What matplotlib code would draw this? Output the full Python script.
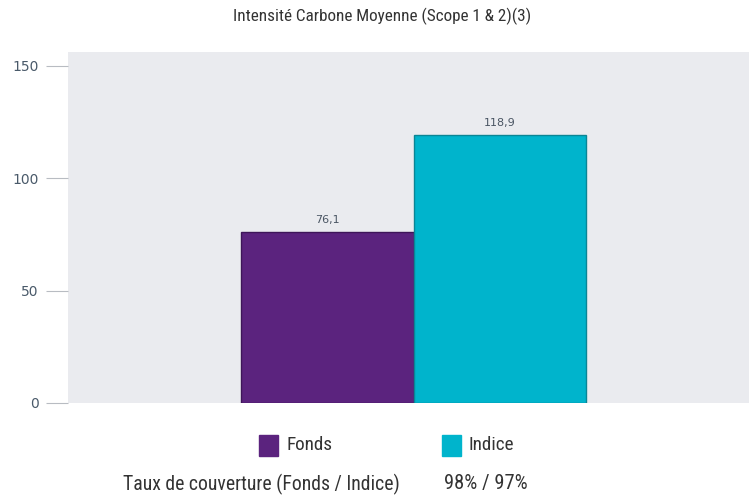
import matplotlib.pyplot as plt
from matplotlib.patches import Rectangle

categories = ["Fonds", "Indice"]
values = [76.1, 118.9]
value_labels = ["76,1", "118,9"]
colors = ["#5b237e", "#00b4cc"]
edge_colors = ["#3e1559", "#0a8595"]
yticks = [0, 50, 100, 150]
coverage_label = "Taux de couverture (Fonds / Indice)"
coverage_value = "98% / 97%"
title = "Intensité Carbone Moyenne (Scope 1 & 2)(3)"

narrow = ["Roboto Condensed", "Liberation Sans Narrow", "Roboto", "DejaVu Sans"]

fig = plt.figure(figsize=(7.49, 4.96), dpi=100)
ax = fig.add_axes([68 / 749, 1 - 403 / 496, 681 / 749, 351 / 496])
ax.set_facecolor("#eaebef")

x = list(range(len(categories)))
bars = ax.bar(x, values, width=1.0, color=colors, edgecolor=edge_colors, linewidth=1)
for xi, v, lab in zip(x, values, value_labels):
    ax.text(xi, v + 3.2, lab, ha="center", va="bottom", fontsize=8, color="#4a5563")

ax.set_xlim(-1.503, 2.445)
ax.set_ylim(0, 156)
ax.set_xticks([])
ax.set_yticks(yticks)
ax.set_yticklabels([str(t) for t in yticks])
ax.tick_params(axis="y", length=16, width=0.8, color="#b8bcc2", pad=5,
               labelsize=10, labelcolor="#4a5a6a")
for s in ax.spines.values():
    s.set_visible(False)

fig.text(382 / 749, 1 - 16 / 496, title, ha="center", va="center", fontsize=12.3,
         color="#333333", family=narrow)

# legend below the chart
for i, (cat, c) in enumerate(zip(categories, colors)):
    x0 = [259, 442][i]
    fig.patches.append(Rectangle((x0 / 749, 1 - 456 / 496), 19 / 749, 21 / 496,
                                 transform=fig.transFigure, color=c))
    fig.text((x0 + 27) / 749, 1 - 445 / 496, cat, ha="left", va="center",
             fontsize=13.8, color="#333333", family=narrow)

fig.text(123 / 749, 1 - 484 / 496, coverage_label, ha="left", va="center",
         fontsize=14.2, color="#333333", family=narrow)
fig.text(444 / 749, 1 - 484 / 496, coverage_value, ha="left", va="center",
         fontsize=14.8, color="#333333", family=narrow)

fig.savefig("out.png", dpi=100)
